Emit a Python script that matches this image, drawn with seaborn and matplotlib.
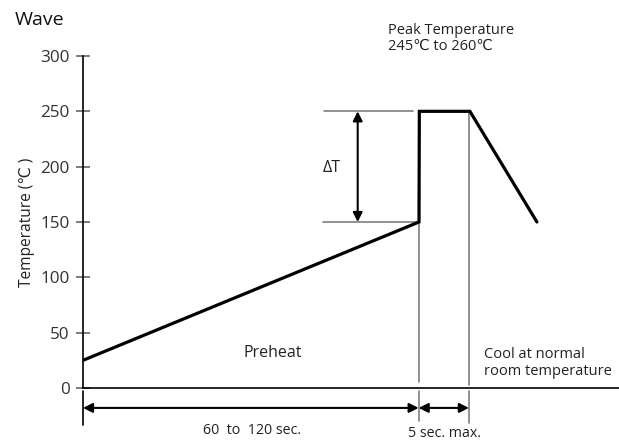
import matplotlib
matplotlib.use("Agg")
import matplotlib.pyplot as plt
import seaborn as sns
import pandas as pd

# ---- data ----
time_pts = [0, 100.3, 100.4, 115.5, 135.5]
temp_pts = [25, 150, 250, 250, 150]
y_ticks = [0, 50, 100, 150, 200, 250, 300]
preheat_end = 100.2
peak_end = 115.2
dT_x = 82.0
title_text = "Wave"
ylabel_text = "Temperature (℃ )"
peak_label = "Peak Temperature\n245℃ to 260℃"

sns.set_style("white")
plt.rcParams['font.family'] = ['Open Sans', 'DejaVu Sans']

fig = plt.figure(figsize=(6.19, 4.41), dpi=100)
ax = fig.add_axes([83/619, 53/441, 536/619, 332/441])

df = pd.DataFrame({"t": time_pts, "T": temp_pts})
sns.lineplot(data=df, x="t", y="T", sort=False, estimator=None, color="black",
             lw=2.3, ax=ax, solid_joinstyle="miter")

ax.set_xlim(0, 160)
ax.set_ylim(0, 300)
ax.set_yticks(y_ticks)
ax.set_xticks([])
ax.set_xlabel("")
ax.set_ylabel(ylabel_text, fontsize=11.2, color="#222222", labelpad=4)
for s in ["top", "right"]:
    ax.spines[s].set_visible(False)
for s in ["left", "bottom"]:
    ax.spines[s].set_color("black")
    ax.spines[s].set_linewidth(1.2)
ax.tick_params(axis="y", direction="inout", length=9.5, width=1.2, color="#666666",
               labelsize=12.3, labelcolor="#333333", pad=5, left=True)

gray = "#7f7f7f"
# gray vertical lines above axis
ax.plot([preheat_end, preheat_end], [150, 5.4], color=gray, lw=1.2, zorder=1)
ax.plot([peak_end, peak_end], [250, 2.7], color=gray, lw=1.2, zorder=1)
# below-axis extension lines
ax.plot([0, 0], [-2.7, -33.5], color="black", lw=1.2, clip_on=False)
ax.plot([preheat_end, preheat_end], [-2.7, -29.5], color=gray, lw=1.2, clip_on=False)
ax.plot([peak_end, peak_end], [-2.7, -31.5], color=gray, lw=1.2, clip_on=False)
# horizontal reference lines for delta T
ax.plot([71.9, 98.5], [250, 250], color=gray, lw=1.2, zorder=1)
ax.plot([71.6, 100.3], [150, 150], color=gray, lw=1.2, zorder=1)

arrow_kw = dict(arrowstyle="<|-|>", color="black", lw=1.5, mutation_scale=14,
                shrinkA=0, shrinkB=0)
ax.annotate("", xy=(dT_x, 250), xytext=(dT_x, 150), arrowprops=arrow_kw)
ax.annotate("", xy=(0, -18), xytext=(preheat_end, -18), arrowprops=arrow_kw,
            annotation_clip=False)
ax.annotate("", xy=(preheat_end, -18), xytext=(peak_end, -18), arrowprops=arrow_kw,
            annotation_clip=False)

tc = "#222222"
ax.text(74.2, 199, "ΔT", fontsize=11.5, color=tc, ha="center", va="center")
ax.text(91, 302, peak_label, fontsize=10.5, color=tc, ha="left", va="bottom",
        linespacing=1.05, clip_on=False)
ax.text(56.5, 32, "Preheat", fontsize=11.5, color=tc, ha="center", va="center")
ax.text(119.7, 22.5, "Cool at normal\nroom temperature", fontsize=10.5, color=tc,
        ha="left", va="center", linespacing=1.12)
ax.text(50.5, -38.5, "60  to  120 sec.", fontsize=10.3, color=tc, ha="center", va="center",
        clip_on=False)
ax.text(107.9, -41, "5 sec. max.", fontsize=10.3, color=tc, ha="center", va="center",
        clip_on=False)

fig.text(15/619, 1 - 20/441, title_text, fontsize=14, color="#111111",
         ha="left", va="center")

fig.savefig("out.png", dpi=100)
